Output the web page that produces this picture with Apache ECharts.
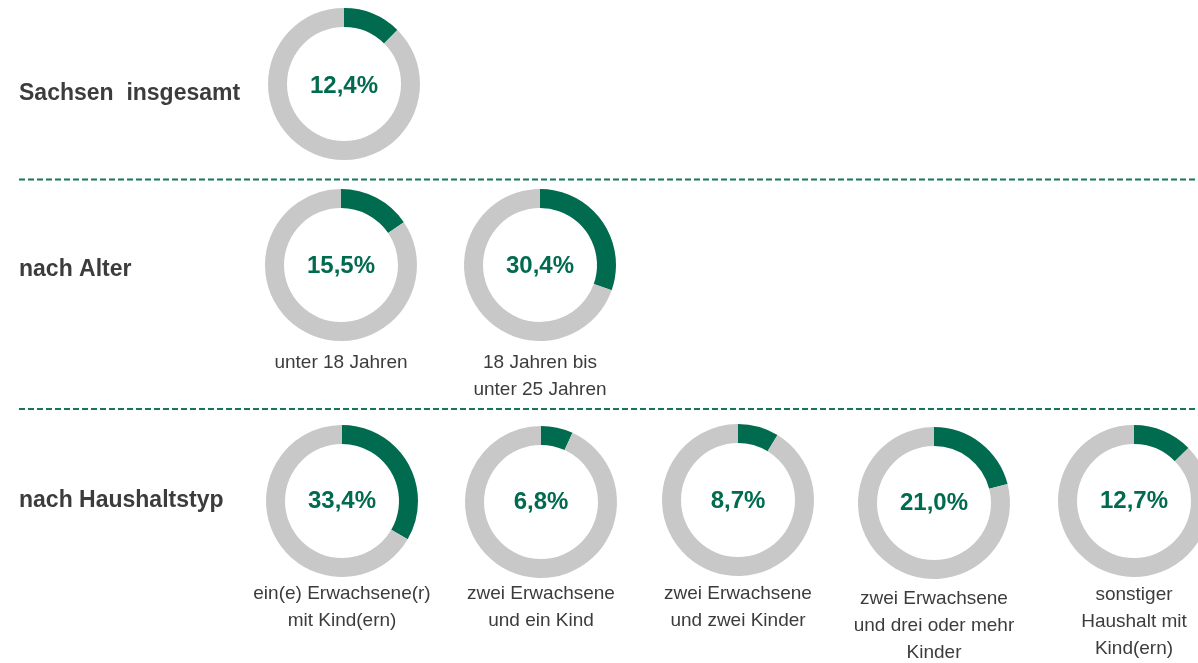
<!DOCTYPE html>
<html>
<head>
<meta charset="utf-8">
<script src="https://cdn.jsdelivr.net/npm/echarts@6/dist/echarts.min.js"></script>
<style>
html,body{margin:0;padding:0;background:#fff;}
#chart{width:1198px;height:663px;}
</style>
</head>
<body>
<div id="chart"></div>
<script>
// ---- data ----
const rowLabels = ['Sachsen  insgesamt', 'nach Alter', 'nach Haushaltstyp'];
const categories = [
  '',
  'unter 18 Jahren',
  '18 Jahren bis\nunter 25 Jahren',
  'ein(e) Erwachsene(r)\nmit Kind(ern)',
  'zwei Erwachsene\nund ein Kind',
  'zwei Erwachsene\nund zwei Kinder',
  'zwei Erwachsene\nund drei oder mehr\nKinder',
  'sonstiger\nHaushalt mit\nKind(ern)'
];
const values = [12.4, 15.5, 30.4, 33.4, 6.8, 8.7, 21.0, 12.7];

// ---- layout (pixels) ----
const donutCenters = [[344, 84], [341, 265], [540, 265], [342, 501], [541, 502], [738, 500], [934, 503], [1134, 501]];
const labelOffsetY = [2, 1, 1, 0, 0, 1, 0, 0];
const labelFirstLine = [0, 363, 363, 594, 594, 594, 599, 595];
const rowLabelY = [94, 270, 501];
const separatorY = [179.5, 409];

const GREEN = '#006b4f';
const GREY = '#c8c8c8';
const TEXT = '#3c3c3c';

const fmt = v => v.toFixed(1).replace('.', ',') + '%';

const series = values.map((v, i) => ({
  type: 'pie',
  center: donutCenters[i],
  radius: [57, 76],
  startAngle: 90,
  clockwise: true,
  silent: true,
  animation: false,
  labelLine: { show: false },
  emphasis: { disabled: true },
  data: [
    {
      value: v, name: 'Anteil',
      itemStyle: { color: GREEN },
      label: {
        show: true, position: 'center', formatter: () => fmt(v),
        color: GREEN, fontSize: 24, fontWeight: 'bold', offset: [0, labelOffsetY[i]],
        fontFamily: 'Liberation Sans, Arial, sans-serif'
      }
    },
    { value: 100 - v, name: 'Rest', itemStyle: { color: GREY }, label: { show: false } }
  ]
}));

const graphics = [];
separatorY.forEach(y => graphics.push({
  type: 'line', silent: true,
  shape: { x1: 19, y1: y, x2: 1198, y2: y },
  style: { stroke: '#15775c', lineWidth: 2, lineDash: [6, 3] }
}));
rowLabels.forEach((t, i) => graphics.push({
  type: 'text', x: 19, y: rowLabelY[i], silent: true,
  style: {
    text: t, fill: TEXT, font: 'bold 23px "Liberation Sans", Arial, sans-serif',
    textAlign: 'left', textVerticalAlign: 'middle'
  }
}));
categories.forEach((t, i) => {
  if (!t) return;
  graphics.push({
    type: 'text', x: donutCenters[i][0], y: labelFirstLine[i] - 13.5, silent: true,
    style: {
      text: t, fill: TEXT, fontSize: 19, fontFamily: '"Liberation Sans", Arial, sans-serif',
      lineHeight: 27, textAlign: 'center', textVerticalAlign: 'top', align: 'center', verticalAlign: 'top'
    }
  });
});

const chart = echarts.init(document.getElementById('chart'), null, { renderer: 'canvas' });
chart.setOption({
  backgroundColor: '#ffffff',
  animation: false,
  series: series,
  graphic: graphics
});
</script>
</body>
</html>
